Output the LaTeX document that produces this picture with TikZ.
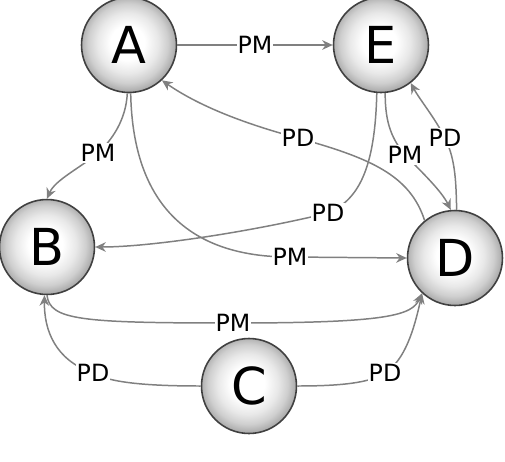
\documentclass[tikz,border=0pt]{standalone}
\usepackage{fontspec}
\setmainfont{DejaVu Sans}
\usetikzlibrary{arrows.meta}
\pgfdeclareradialshading{myballshade}{\pgfpoint{-1bp}{1.5bp}}{color(0bp)=(white); color(9bp)=(white); color(16bp)=(gray!18); color(21bp)=(gray!38); color(24bp)=(gray!58); color(25bp)=(gray!65); color(50bp)=(gray!65)}
\begin{document}
\begin{tikzpicture}[x=0.02cm,y=-0.02cm,
  ballnode/.style={circle,minimum size=1.9cm,inner sep=0pt,shading=myballshade,
    draw=gray!50!black,line width=0.9pt,
    font=\fontsize{29}{30}\selectfont},
  lbl/.style={fill=white,inner sep=0.6pt,font=\fontsize{13.5}{14}\selectfont},
  edge/.style={draw=gray,line width=0.85pt,-{Stealth[length=6pt,width=5.5pt]}}
]
\useasboundingbox (0,0) rectangle (505,461);
\node[ballnode] (A) at (129,45) {A};
\node[ballnode] (E) at (381,45) {E};
\node[ballnode] (B) at (47,247) {B};
\node[ballnode] (D) at (455,258) {D};
\node[ballnode] (C) at (249,386) {C};

% A -> E
\draw[edge] (A.east) -- node[lbl]{PM} (E.west);
% A -> B
\draw[edge] (A.-92) .. controls (126,120) and (112,140) .. (98,153) node[lbl]{PM}
  .. controls (80,168) and (55,180) .. (B.north);
% A -> D
\draw[edge] (A.-88) .. controls (133,215) and (200,257) .. (290,257) node[lbl]{PM} -- (D.west);
% E -> B
\draw[edge] (E.-95) .. controls (375,170) and (358,200) .. (328,213) node[lbl]{PD}
  .. controls (250,232) and (150,247) .. (B.east);
% D -> A
\draw[edge] (D.129) .. controls (410,175) and (370,158) .. (298,138) node[lbl]{PD}
  .. controls (230,120) and (190,100) .. (A.-47);
% E -> D
\draw[edge] (E.-85) .. controls (385,125) and (393,140) .. (405,155) node[lbl]{PM}
  .. controls (425,175) and (442,192) .. (D.95);
% D -> E
\draw[edge] (D.88) .. controls (456,185) and (456,160) .. (445,138) node[lbl]{PD}
  .. controls (435,118) and (420,100) .. (E.-52);
% C -> B
\draw[edge] (C.west) .. controls (150,386) and (110,383) .. (93,373) node[lbl]{PD}
  .. controls (55,360) and (44,330) .. (B.-93);
% C -> D
\draw[edge] (C.east) .. controls (340,386) and (370,383) .. (385,373) node[lbl]{PD}
  .. controls (405,360) and (414,330) .. (D.-133);
% B -> D
\draw[edge] (B.-90) .. controls (50,320) and (80,323) .. (233,323) node[lbl]{PM}
  .. controls (390,323) and (412,315) .. (D.-133);
\end{tikzpicture}
\end{document}
